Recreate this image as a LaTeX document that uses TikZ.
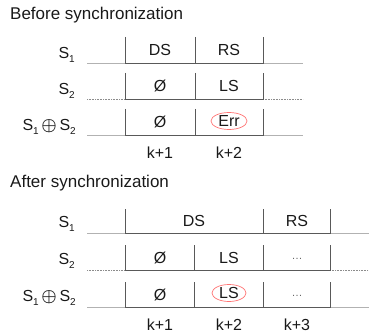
\documentclass[tikz,border=0pt]{standalone}
\usepackage{fontspec}
\setmainfont{Liberation Sans}
\usetikzlibrary{positioning,shapes.geometric}
\newcommand{\lowidx}[1]{\raisebox{-0.55ex}{\fontsize{10}{10}\selectfont #1}}
\newcommand{\xorsym}{\,{\fontsize{18}{18}\selectfont\boldmath$\oplus$}\,}

\begin{document}
\begin{tikzpicture}[
  x=1pt, y=-1pt,
  every node/.style={font=\fontsize{16}{18}\selectfont, text=black!90, inner sep=1pt},
  lab/.style={anchor=east},
  title/.style={anchor=west, font=\fontsize{17}{20}\selectfont},
  slot/.style={draw=black!65, line width=0.9pt},
  track/.style={draw=black!30, line width=0.6pt},
  dottrack/.style={track, densely dotted, draw=black!45},
  errmark/.style={ellipse, draw=red!55, line width=0.7pt, inner sep=0pt, minimum width=36pt, minimum height=17pt},
  more/.style={font=\fontsize{11}{12}\selectfont, text=black!60}
]
\useasboundingbox (0,0) rectangle (369,334);

% before synchronization
\node[title] (before) at (9,15) {Before synchronization};
\foreach \yb/\kind in {63/track, 99/dottrack, 135/track}{
  \draw[\kind] (87,\yb) -- (303,\yb);
  \draw[slot] (125,\yb-26) -- (125,\yb) -- (263,\yb) -- (263,\yb-26);
  \draw[slot] (195,\yb-26) -- (195,\yb);
}
\node[lab] (b-s1) at (76,55) {S\lowidx{1}};
\node[lab] (b-s2) at (76,91) {S\lowidx{2}};
\node[lab] (b-sx) at (77,127) {S\lowidx{1}\xorsym S\lowidx{2}};
\node (b-ds) at (160,50) {DS};
\node (b-rs) at (229,50) {RS};
\node (b-e1) at (160,86) {Ø};
\node (b-ls) at (229,86) {LS};
\node (b-e2) at (160,122) {Ø};
\node[errmark] (b-err) at (229,121) {Err};
\node (b-k1) at (160,153) {k+1};
\node (b-k2) at (229,153) {k+2};

% after synchronization
\node[title] (after) at (9,183) {After synchronization};
\draw[track] (87,233) -- (369,233);
\draw[slot] (125,209) -- (125,233) -- (330,233) -- (330,209);
\draw[slot] (263,209) -- (263,233);
\foreach \yb/\kind in {270/dottrack, 307/track}{
  \draw[\kind] (87,\yb) -- (369,\yb);
  \draw[slot] (125,\yb-25) -- (125,\yb) -- (330,\yb) -- (330,\yb-25);
  \foreach \xv in {194,263}
    \draw[slot] (\xv,\yb-25) -- (\xv,\yb);
}
\node[lab] (a-s1) at (76,224) {S\lowidx{1}};
\node[lab] (a-s2) at (76,261) {S\lowidx{2}};
\node[lab] (a-sx) at (77,298) {S\lowidx{1}\xorsym S\lowidx{2}};
\node (a-ds) at (194,221) {DS};
\node (a-rs) at (297,221) {RS};
\node (a-e1) at (160,258) {Ø};
\node (a-ls) at (229,258) {LS};
\node[more] (a-m1) at (297,259) {\dots};
\node (a-e2) at (160,295) {Ø};
\node[errmark, minimum width=34pt] (a-lsx) at (229,293) {LS};
\node[more] (a-m2) at (297,296) {\dots};
\node (a-k1) at (160,325) {k+1};
\node (a-k2) at (229,325) {k+2};
\node (a-k3) at (297,325) {k+3};
\end{tikzpicture}
\end{document}
